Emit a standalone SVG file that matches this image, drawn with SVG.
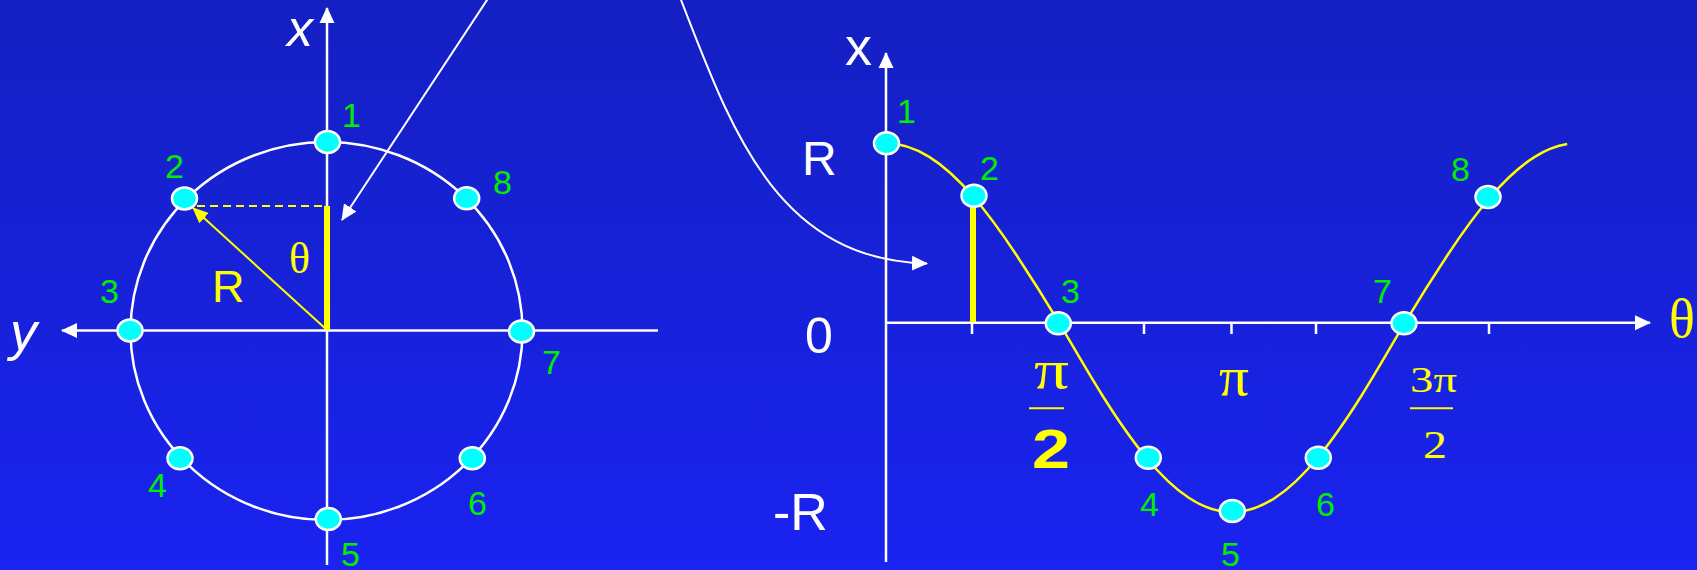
<svg xmlns="http://www.w3.org/2000/svg" width="1697" height="570" viewBox="0 0 1697 570">
<defs>
<linearGradient id="bg" x1="0" y1="0" x2="0" y2="1">
<stop offset="0" stop-color="#1420C2"/>
<stop offset="1" stop-color="#1A23F0"/>
</linearGradient>
<marker id="aw" markerWidth="16" markerHeight="16" refX="15" refY="8" orient="auto" markerUnits="userSpaceOnUse"><path d="M0,0.5 L16,8 L0,15.5 z" fill="#fff"/></marker>
<marker id="ay" markerWidth="16" markerHeight="16" refX="15" refY="7" orient="auto" markerUnits="userSpaceOnUse"><path d="M0,0 L16,7 L0,14 z" fill="#FFFF00"/></marker>
<style>
.ax{stroke:#fff;stroke-width:2.5;fill:none}
.thin{stroke:#fff;stroke-width:2;fill:none}
.yl{stroke:#FFFF00;fill:none}
.nd{fill:#00FFFF;stroke:#fff;stroke-width:2.5}
.num{font-family:"Liberation Sans",Arial,sans-serif;font-size:34px;fill:#00EE00}
.wt{font-family:"Liberation Sans",Arial,sans-serif;fill:#fff}
.ser{font-family:"Liberation Serif","Times New Roman",serif;fill:#FFFF00}
.sans-y{font-family:"Liberation Sans",Arial,sans-serif;fill:#FFFF00}
</style>
</defs>
<rect x="0" y="0" width="1697" height="570" fill="url(#bg)"/>

<g id="connectors">
<!-- left figure -->
<line class="ax" x1="327" y1="565" x2="327" y2="8" marker-end="url(#aw)"/>
<line class="ax" x1="658" y1="330.5" x2="62" y2="330.5" marker-end="url(#aw)"/>
<ellipse class="ax" cx="326.5" cy="331" rx="196" ry="189"/>
<line class="yl" stroke-width="2" stroke-dasharray="8,5" x1="197" y1="206" x2="327" y2="206"/>
<line class="yl" stroke-width="6" x1="327" y1="206" x2="327" y2="330"/>
<line class="yl" stroke-width="2" x1="327" y1="330" x2="193" y2="208" marker-end="url(#ay)"/>
<line class="thin" x1="489" y1="-3" x2="342" y2="220" marker-end="url(#aw)"/>
<!-- curved arrow -->
<path class="thin" d="M681,0 C730,125 775,260 927,263.5" marker-end="url(#aw)"/>
<!-- right figure -->
<line class="ax" x1="886" y1="562" x2="886" y2="53" marker-end="url(#aw)"/>
<line class="ax" x1="886" y1="322.7" x2="1650" y2="322.7" marker-end="url(#aw)"/>
<g class="ax">
<line x1="972" y1="322" x2="972" y2="334"/>
<line x1="1144" y1="322" x2="1144" y2="334"/>
<line x1="1231.5" y1="322" x2="1231.5" y2="334"/>
<line x1="1316" y1="322" x2="1316" y2="334"/>
<line x1="1489" y1="322" x2="1489" y2="334"/>
</g>
<line class="yl" stroke-width="6" x1="973" y1="200" x2="973" y2="322"/>
<path class="yl" stroke-width="2.5" d="M886,143.2 C900.42,143.2 914.83,147.87 929.25,156.86 C943.67,165.85 958.08,179.16 972.5,195.78 C986.92,212.4 1001.33,232.29 1015.75,254 C1030.17,275.71 1044.58,298.55 1059,322.7 C1073.42,346.85 1087.83,372.3 1102.25,395.22 C1116.67,418.14 1131.08,439.16 1145.5,456.7 C1159.92,474.24 1174.33,488.29 1188.75,497.78 C1203.17,507.27 1217.58,512.2 1232,512.2 C1246.42,512.2 1260.83,507.27 1275.25,497.78 C1289.67,488.29 1304.08,474.24 1318.5,456.7 C1332.92,439.16 1347.33,418.14 1361.75,395.22 C1376.17,372.3 1390.58,346.85 1405,322.7 C1419.42,298.55 1433.83,275.71 1448.25,254 C1462.67,232.29 1477.08,212.4 1491.5,195.78 C1505.92,179.16 1520.33,165.85 1534.75,156.86 C1545.57,150.11 1556.38,145.79 1567.2,144.06"/>
</g>

<g id="left-nodes">
<g id="c1"><ellipse class="nd" cx="327.5" cy="142" rx="12.5" ry="11"/><text class="num" x="342" y="127">1</text></g>
<g id="c2"><ellipse class="nd" cx="184.5" cy="198.5" rx="12.5" ry="11"/><text class="num" x="165" y="178">2</text></g>
<g id="c3"><ellipse class="nd" cx="130" cy="330.5" rx="12.5" ry="11"/><text class="num" x="100" y="303">3</text></g>
<g id="c4"><ellipse class="nd" cx="180" cy="458.3" rx="12.5" ry="11"/><text class="num" x="148" y="497">4</text></g>
<g id="c5"><ellipse class="nd" cx="328.3" cy="519" rx="12.5" ry="11"/><text class="num" x="341" y="566">5</text></g>
<g id="c6"><ellipse class="nd" cx="472.3" cy="458.3" rx="12.5" ry="11"/><text class="num" x="468" y="515">6</text></g>
<g id="c7"><ellipse class="nd" cx="521.5" cy="331.5" rx="12.5" ry="11"/><text class="num" x="542" y="374">7</text></g>
<g id="c8"><ellipse class="nd" cx="466.7" cy="198.3" rx="12.5" ry="11"/><text class="num" x="493" y="194">8</text></g>
</g>

<g id="right-nodes">
<g id="s1"><ellipse class="nd" cx="886.5" cy="143.3" rx="12.5" ry="11"/><text class="num" x="897" y="123">1</text></g>
<g id="s2"><ellipse class="nd" cx="974" cy="195.7" rx="12.5" ry="11"/><text class="num" x="980" y="180">2</text></g>
<g id="s3"><ellipse class="nd" cx="1058.3" cy="323.3" rx="12.5" ry="11"/><text class="num" x="1061" y="303">3</text></g>
<g id="s4"><ellipse class="nd" cx="1148.3" cy="457.7" rx="12.5" ry="11"/><text class="num" x="1140" y="516">4</text></g>
<g id="s5"><ellipse class="nd" cx="1232.3" cy="511" rx="12.5" ry="11"/><text class="num" x="1221" y="566">5</text></g>
<g id="s6"><ellipse class="nd" cx="1318.3" cy="457.7" rx="12.5" ry="11"/><text class="num" x="1316" y="516">6</text></g>
<g id="s7"><ellipse class="nd" cx="1404" cy="323.3" rx="12.5" ry="11"/><text class="num" x="1373" y="303">7</text></g>
<g id="s8"><ellipse class="nd" cx="1488" cy="197" rx="12.5" ry="11"/><text class="num" x="1451" y="181">8</text></g>
</g>

<g id="labels">
<text class="wt" x="287" y="46" font-size="52" font-style="italic">x</text>
<text class="wt" x="10" y="350" font-size="54" font-style="italic">y</text>
<text class="sans-y" x="212" y="302" font-size="45">R</text>
<text class="ser" x="289" y="273" font-size="44">θ</text>
<text class="wt" x="845" y="65" font-size="54">x</text>
<text class="wt" x="802" y="175" font-size="48">R</text>
<text class="wt" x="805" y="353" font-size="50">0</text>
<text class="wt" x="773" y="530" font-size="52">-R</text>
<text class="ser" x="1669" y="337" font-size="54">θ</text>
<text class="ser" x="1034" y="388" font-size="54" textLength="35" lengthAdjust="spacingAndGlyphs">π</text>
<line class="yl" stroke-width="2" x1="1029" y1="408.3" x2="1064" y2="408.3"/>
<text class="sans-y" x="1032" y="468" font-size="56" font-weight="bold" textLength="38" lengthAdjust="spacingAndGlyphs">2</text>
<text class="ser" x="1219" y="395" font-size="54" textLength="30" lengthAdjust="spacingAndGlyphs">π</text>
<text class="ser" x="1410" y="392" font-size="36" textLength="47" lengthAdjust="spacingAndGlyphs">3π</text>
<line class="yl" stroke-width="2" x1="1410" y1="408.3" x2="1453" y2="408.3"/>
<text class="ser" x="1423" y="458" font-size="41" textLength="24" lengthAdjust="spacingAndGlyphs">2</text>
</g>
</svg>
